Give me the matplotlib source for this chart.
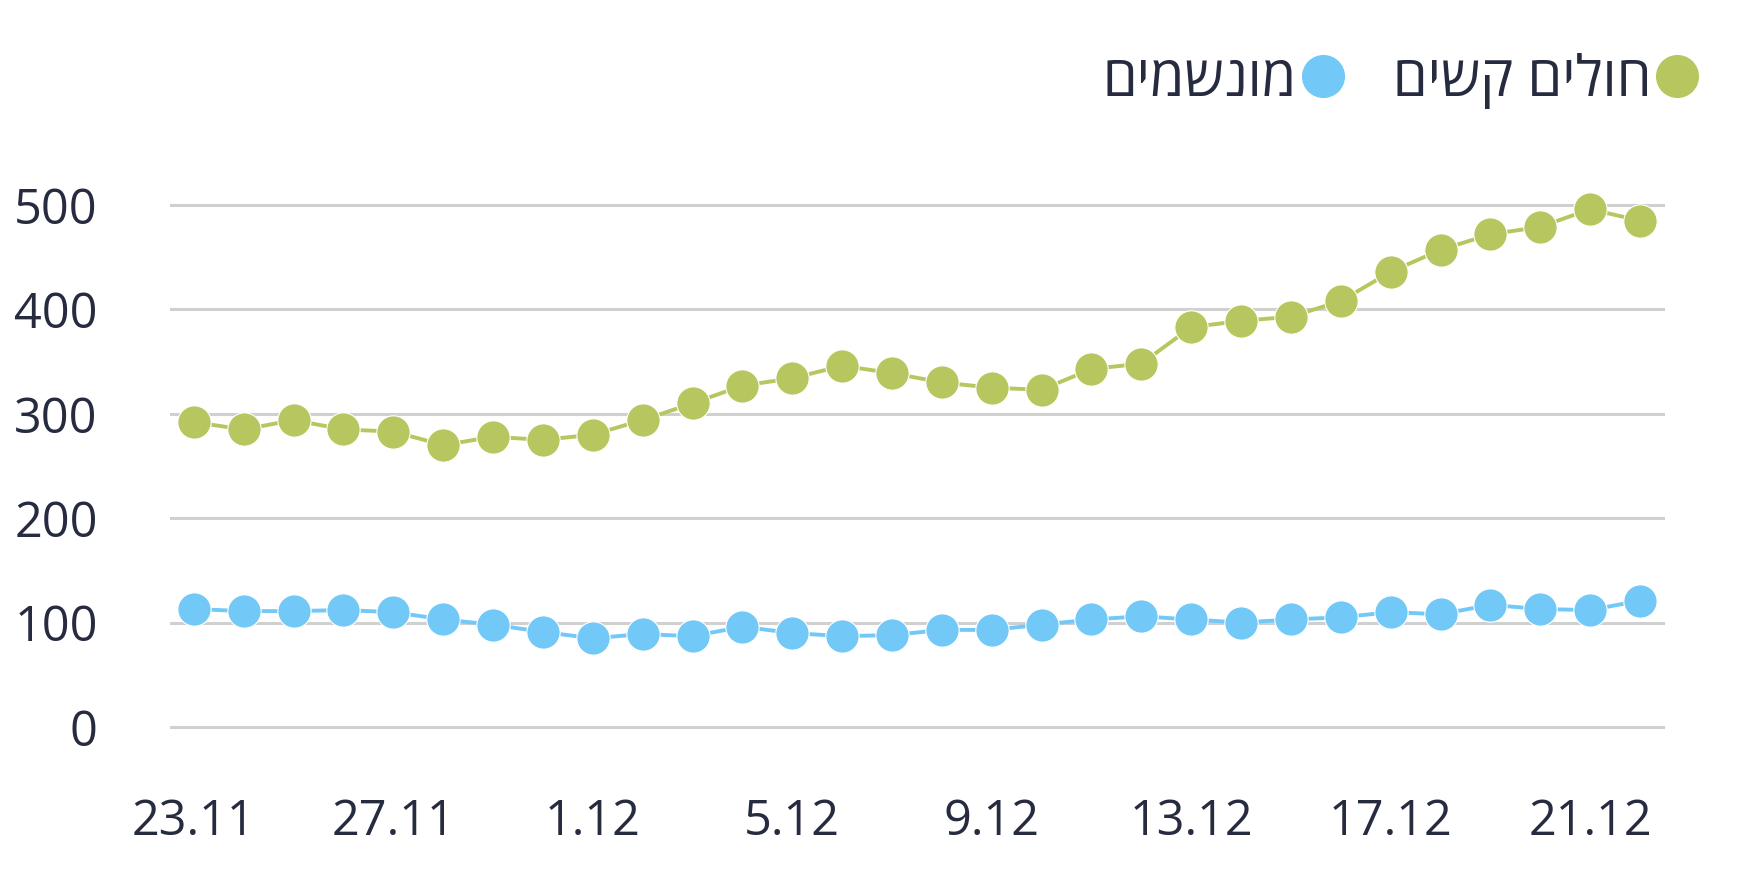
import numpy as np
import matplotlib
matplotlib.use("Agg")
import matplotlib.pyplot as plt
from matplotlib.lines import Line2D

# data (23.11 -> 22.12)
dates = ["23.11", "24.11", "25.11", "26.11", "27.11", "28.11", "29.11", "30.11",
         "1.12", "2.12", "3.12", "4.12", "5.12", "6.12", "7.12", "8.12", "9.12",
         "10.12", "11.12", "12.12", "13.12", "14.12", "15.12", "16.12", "17.12",
         "18.12", "19.12", "20.12", "21.12", "22.12"]
severe = [292, 285, 294, 285, 283, 270, 278, 275, 280, 294, 310, 327, 334, 346, 339,
          330, 325, 323, 343, 348, 383, 389, 393, 408, 436, 457, 472, 479, 496, 485]
ventilated = [113, 111, 111, 112, 110, 103, 98, 91, 85, 89, 87, 96, 90, 87, 88,
              93, 93, 98, 103, 106, 103, 100, 103, 105, 110, 108, 117, 113, 112, 121]
y_ticks = [0, 100, 200, 300, 400, 500]

label_severe = "חולים קשים"
label_vent = "מונשמים"

GREEN = "#b7c65e"
BLUE = "#72c9f7"
TEXT = "#262b40"
GRID = "#d0d0d0"

plt.rcParams["font.family"] = ["Open Sans", "DejaVu Sans"]

fig = plt.figure(figsize=(17.54, 8.84), dpi=100)
ax = fig.add_axes([0.0969, 0.154, 0.8523, 0.6377])

x = np.arange(len(dates))
ax.plot(x, severe, color=GREEN, lw=2.8, marker="o", ms=24, mec="white", mew=0.8, zorder=3)
ax.plot(x, ventilated, color=BLUE, lw=2.8, marker="o", ms=24, mec="white", mew=0.8, zorder=3)

ax.set_xlim(-0.48, 29.5)
ax.set_ylim(-20, 520)
ax.set_yticks(y_ticks)
ax.set_yticklabels([str(v) for v in y_ticks])
ax.set_xticks(x[::4])
ax.set_xticklabels(dates[::4])

for yv in y_ticks:
    ax.axhline(yv, color=GRID, lw=2.2, zorder=1)

for s in ax.spines.values():
    s.set_visible(False)
ax.tick_params(axis="both", length=0, labelsize=35, labelcolor=TEXT)
ax.tick_params(axis="y", pad=52)
ax.tick_params(axis="x", pad=36)

# legend: RTL, marker on the right of each label
handles = [
    Line2D([], [], color=BLUE, marker="o", ls="none", ms=30),
    Line2D([], [], color=GREEN, marker="o", ls="none", ms=30),
]
fig.legend(handles, [label_vent[::-1], label_severe[::-1]], ncol=2, markerfirst=False,
           frameon=False, loc="upper right", bbox_to_anchor=(0.999, 0.997),
           fontsize=40, labelcolor=TEXT, handletextpad=0.02, columnspacing=0.8,
           handlelength=0.9)

fig.savefig("out.png", dpi=100)
